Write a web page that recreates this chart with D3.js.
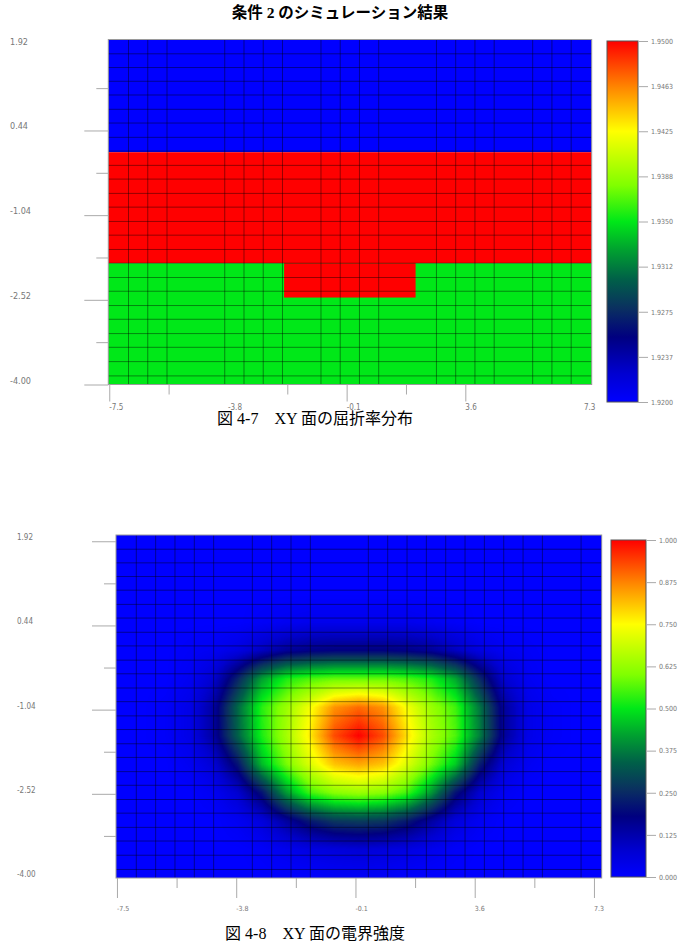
<!DOCTYPE html>
<html>
<head>
<meta charset="utf-8">
<script src="https://cdn.jsdelivr.net/npm/d3@7"></script>
<style>
  body { margin: 0; background: #fff; }
  text { font-family: "Liberation Sans Narrow", "DejaVu Sans Condensed", sans-serif; fill: #777; }
  .title { font-family: "Liberation Serif", "Noto Sans CJK JP", serif; font-weight: bold; fill: #000; }
  .caption { font-family: "Liberation Serif", "Noto Sans CJK JP", serif; fill: #000; }
  .tick line { stroke: #aaa; }
</style>
</head>
<body>
<svg id="chart" width="678" height="944"></svg>
<script>
// Simulation result (condition 2): refractive index map and field intensity map

// Axes (both panels share the same data window)
const xDomain = [-7.53, 7.54];
const yDomain = [-4.00, 2.03];
const xLabelValues = [-7.5, -3.8, -0.1, 3.6, 7.3];
const xLabels = ['-7.5', '-3.8', '-0.1', '3.6', '7.3'];
const yLabelValues = [1.92, 0.44, -1.04, -2.52, -4.00];
const yLabels = ['1.92', '0.44', '-1.04', '-2.52', '-4.00'];

// Tick marks visible in each panel
const xMajorTop = [-7.5, -0.1, 3.6];
const xMinorTop = [-5.65, -1.95, 1.75];
const yMajorTop = [0.44, -1.04, -2.52, -4.00];
const xMajorBot = [-7.5, -3.8, -0.1, 3.6, 7.3];
const xMinorBot = [-5.65, -1.95, 1.75, 5.45];
const yMajorBot = [1.92, 0.44, -1.04, -2.52];
const yMinor = [1.18, -0.30, -1.78, -3.26];

// Mesh lines
const meshXTop = [-6.9, -6.3, -5.7, -3.9, -3.3, -2.7, -2.1, -0.9, -0.3, 0.3, 0.9, 2.7, 3.3, 3.9, 4.5, 5.7, 6.3, 6.9];
const meshXBot = [-6.9, -6.3, -5.7, -5.1, -4.5, -3.3, -2.7, -2.1, -1.5, 0.3, 0.9, 1.5, 2.1, 2.7, 3.3, 3.9, 4.5, 5.1, 5.7, 6.9];
const meshY = [1.78, 1.54, 1.30, 1.06, 0.81, 0.57, 0.32, 0.08, -0.17, -0.41, -0.66, -0.90, -1.15, -1.39,
               -1.64, -1.88, -2.13, -2.37, -2.62, -2.86, -3.11, -3.35, -3.60, -3.85];

// Refractive index structure
const layerTop = [2.03, 0.06, -1.88];
const layerBottom = [0.06, -1.88, -4.00];
const layerIndex = [1.9200, 1.9500, 1.9350];
const ridgeX = [-2.05, 2.05];
const ridgeY = [-1.88, -2.48];
const ridgeIndex = 1.9500;

// Colour bar ticks
const indexTicks = [1.9200, 1.92375, 1.9275, 1.93125, 1.9350, 1.93875, 1.9425, 1.94625, 1.9500];
const indexLabels = ['1.9200', '1.9237', '1.9275', '1.9312', '1.9350', '1.9388', '1.9425', '1.9463', '1.9500'];
const fieldTicks = [0, 0.125, 0.25, 0.375, 0.5, 0.625, 0.75, 0.875, 1];
const fieldLabels = ['0.000', '0.125', '0.250', '0.375', '0.500', '0.625', '0.750', '0.875', '1.000'];

// Colour map (fraction of range -> colour)
const cmapStops = [0, 0.08, 0.18, 0.26, 0.34, 0.42, 0.5, 0.6, 0.75, 0.87, 1];
const cmapColors = ['#0000ff', '#0000d0', '#000080', '#0a3060', '#006048', '#00a030', '#00e818',
                    '#80ff00', '#ffff00', '#ff8800', '#ff0000'];

// Normalised field intensity, estimated on a coarse grid
const fieldX = [-7.5, -6.75, -6, -5.25, -4.5, -3.75, -3, -2.25, -1.5, -0.75, 0, 0.75, 1.5, 2.25, 3, 3.75, 4.5, 5.25, 6, 6.75, 7.5];
const fieldY = [2.0, 1.5, 1.0, 0.5, 0.0, -0.5, -1.0, -1.5, -2.0, -2.5, -3.0, -3.5, -4.0];
const fieldE = [
  [0, 0, 0, 0, 0, 0, 0, 0, 0, 0, 0, 0, 0, 0, 0, 0, 0, 0, 0, 0, 0],
  [0, 0, 0, 0, 0, 0, 0, 0, 0, 0, 0, 0, 0, 0, 0, 0, 0, 0, 0, 0, 0],
  [0, 0, 0, 0, 0, 0, 0, 0, 0, 0, 0, 0, 0, 0, 0, 0, 0, 0, 0, 0, 0],
  [0, 0, 0, 0, 0, 0, 0.01, 0.02, 0.03, 0.03, 0.03, 0.03, 0.03, 0.02, 0.01, 0, 0, 0, 0, 0, 0],
  [0, 0, 0, 0.01, 0.02, 0.05, 0.10, 0.15, 0.17, 0.18, 0.18, 0.18, 0.17, 0.15, 0.10, 0.05, 0.02, 0.01, 0, 0, 0],
  [0, 0, 0, 0.02, 0.08, 0.24, 0.42, 0.52, 0.56, 0.58, 0.58, 0.58, 0.56, 0.52, 0.43, 0.25, 0.08, 0.02, 0, 0, 0],
  [0, 0, 0.01, 0.04, 0.14, 0.35, 0.53, 0.63, 0.74, 0.86, 0.90, 0.86, 0.74, 0.63, 0.55, 0.37, 0.15, 0.04, 0.01, 0, 0],
  [0, 0, 0.01, 0.04, 0.14, 0.34, 0.52, 0.64, 0.77, 0.93, 1.00, 0.93, 0.78, 0.65, 0.56, 0.38, 0.15, 0.04, 0.01, 0, 0],
  [0, 0, 0, 0.02, 0.07, 0.21, 0.45, 0.59, 0.71, 0.81, 0.84, 0.81, 0.71, 0.59, 0.47, 0.23, 0.07, 0.02, 0, 0, 0],
  [0, 0, 0, 0, 0.02, 0.08, 0.21, 0.41, 0.55, 0.61, 0.63, 0.61, 0.55, 0.41, 0.21, 0.08, 0.02, 0, 0, 0, 0],
  [0, 0, 0, 0, 0, 0.02, 0.06, 0.14, 0.22, 0.27, 0.28, 0.27, 0.22, 0.14, 0.06, 0.02, 0, 0, 0, 0, 0],
  [0, 0, 0, 0, 0, 0, 0.01, 0.03, 0.05, 0.06, 0.07, 0.06, 0.05, 0.03, 0.01, 0, 0, 0, 0, 0, 0],
  [0, 0, 0, 0, 0, 0, 0, 0, 0, 0.01, 0.01, 0.01, 0, 0, 0, 0, 0, 0, 0, 0, 0]
];

const cmap = d3.scaleLinear().domain(cmapStops).range(cmapColors).clamp(true);
const indexNorm = d3.scaleLinear().domain([1.92, 1.95]).range([0, 1]);

const svg = d3.select('#chart');
svg.append('rect').attr('width', 678).attr('height', 944).attr('fill', '#fff');

// Title
svg.append('text')
  .attr('class', 'title')
  .attr('x', 340).attr('y', 14)
  .attr('text-anchor', 'middle')
  .attr('dominant-baseline', 'middle')
  .style('font-size', '15.5px')
  .text('条件 2 のシミュレーション結果');

// Draws ticks, labels, mesh and border for one panel
function drawFrame(x, y, meshX, opt) {
  const g = svg.append('g');
  const [x0, x1] = x.range();
  const [y1, y0] = y.range();

  // mesh
  g.selectAll('.mx').data(meshX).enter().append('line')
    .attr('x1', d => x(d)).attr('x2', d => x(d))
    .attr('y1', y0).attr('y2', y1)
    .attr('stroke', '#000').attr('stroke-opacity', 0.42).attr('stroke-width', 1);
  g.selectAll('.my').data(meshY).enter().append('line')
    .attr('x1', x0).attr('x2', x1)
    .attr('y1', d => y(d)).attr('y2', d => y(d))
    .attr('stroke', '#000').attr('stroke-opacity', 0.42).attr('stroke-width', 1);

  g.append('rect')
    .attr('x', x0).attr('y', y0).attr('width', x1 - x0).attr('height', y1 - y0)
    .attr('fill', 'none').attr('stroke', '#9a9a9a');

  // y axis ticks (major and minor in separate groups)
  const yMaj = g.append('g').attr('transform', `translate(${x0},0)`)
    .call(d3.axisLeft(y).tickValues(opt.yMajor).tickSize(24).tickFormat(''));
  const yMin = g.append('g').attr('transform', `translate(${x0},0)`)
    .call(d3.axisLeft(y).tickValues(yMinor).tickSize(12).tickFormat(''));
  yMaj.selectAll('.domain').remove();
  yMin.selectAll('.domain').remove();
  g.selectAll('.ylab').data(yLabelValues).enter().append('text')
    .attr('x', opt.yLabelX).attr('y', d => y(d) - 3.5)
    .attr('dominant-baseline', 'middle')
    .style('font-size', opt.yFont)
    .text((d, i) => yLabels[i]);

  // x axis ticks
  const xMaj = g.append('g').attr('transform', `translate(0,${y1})`)
    .call(d3.axisBottom(x).tickValues(opt.xMajor).tickSize(opt.xMajorLen).tickFormat(''));
  const xMin = g.append('g').attr('transform', `translate(0,${y1})`)
    .call(d3.axisBottom(x).tickValues(opt.xMinor).tickSize(10).tickFormat(''));
  xMaj.selectAll('.domain').remove();
  xMin.selectAll('.domain').remove();
  g.selectAll('.xlab').data(xLabelValues).enter().append('text')
    .attr('x', d => x(d)).attr('y', opt.xLabelY)
    .attr('dominant-baseline', 'middle')
    .style('font-size', opt.xFont)
    .text((d, i) => xLabels[i]);
}

// Vertical colour bar with its own ticks
function drawColorBar(id, x0, width, scale, ticks, labels) {
  const [yb, yt] = scale.range();
  const grad = svg.append('defs').append('linearGradient')
    .attr('id', id).attr('x1', 0).attr('y1', 1).attr('x2', 0).attr('y2', 0);
  cmapStops.forEach((s, i) => {
    grad.append('stop').attr('offset', s).attr('stop-color', cmapColors[i]);
  });
  svg.append('rect')
    .attr('x', x0).attr('y', yt).attr('width', width).attr('height', yb - yt)
    .attr('fill', `url(#${id})`).attr('stroke', '#555').attr('stroke-width', 1);
  const ax = svg.append('g').attr('transform', `translate(${x0 + width},0)`)
    .call(d3.axisRight(scale).tickValues(ticks).tickSize(10).tickPadding(3)
      .tickFormat((d, i) => labels[i]));
  ax.selectAll('.domain').remove();
  ax.selectAll('text').style('font-size', '7px').attr('fill', '#777')
    .style('font-family', '"Liberation Sans Narrow", "DejaVu Sans Condensed", sans-serif');
}

// ---------- Panel 1: refractive index ----------
const xTop = d3.scaleLinear().domain(xDomain).range([108.3, 591.7]);
const yTop = d3.scaleLinear().domain(yDomain).range([384.5, 39.5]);

svg.selectAll('.layer').data(layerIndex).enter().append('rect')
  .attr('x', xTop(xDomain[0]))
  .attr('width', xTop(xDomain[1]) - xTop(xDomain[0]))
  .attr('y', (d, i) => yTop(layerTop[i]))
  .attr('height', (d, i) => yTop(layerBottom[i]) - yTop(layerTop[i]))
  .attr('fill', d => cmap(indexNorm(d)));

svg.append('rect')
  .attr('x', xTop(ridgeX[0])).attr('width', xTop(ridgeX[1]) - xTop(ridgeX[0]))
  .attr('y', yTop(ridgeY[0])).attr('height', yTop(ridgeY[1]) - yTop(ridgeY[0]))
  .attr('fill', cmap(indexNorm(ridgeIndex)));

drawFrame(xTop, yTop, meshXTop, {
  yMajor: yMajorTop, xMajor: xMajorTop, xMinor: xMinorTop,
  yLabelX: 10, yFont: '9px', xMajorLen: 17, xLabelY: 407, xFont: '8px'
});

const cbTop = d3.scaleLinear().domain([1.92, 1.95]).range([402, 41]);
drawColorBar('gradTop', 607, 31, cbTop, indexTicks, indexLabels);

svg.append('text')
  .attr('class', 'caption')
  .attr('x', 315).attr('y', 420)
  .attr('text-anchor', 'middle').attr('dominant-baseline', 'middle')
  .style('font-size', '16px')
  .text('図 4-7　XY 面の屈折率分布');

// ---------- Panel 2: field intensity ----------
const xBot = d3.scaleLinear().domain(xDomain).range([116, 601.7]);
const yBot = d3.scaleLinear().domain(yDomain).range([878, 535]);

function fieldAt(xv, yv) {
  const nx = fieldX.length, ny = fieldY.length;
  let fx = (xv - fieldX[0]) / (fieldX[1] - fieldX[0]);
  let fy = (fieldY[0] - yv) / (fieldY[0] - fieldY[1]);
  fx = Math.max(0, Math.min(nx - 1.0001, fx));
  fy = Math.max(0, Math.min(ny - 1.0001, fy));
  const i = Math.floor(fx), j = Math.floor(fy);
  const tx = fx - i, ty = fy - j;
  const a = fieldE[j][i] * (1 - tx) + fieldE[j][i + 1] * tx;
  const b = fieldE[j + 1][i] * (1 - tx) + fieldE[j + 1][i + 1] * tx;
  return a * (1 - ty) + b * ty;
}

const px0 = xBot.range()[0], py0 = yBot.range()[1];
const cw = Math.round(xBot.range()[1] - px0);
const ch = Math.round(yBot.range()[0] - py0);
const canvas = document.createElement('canvas');
canvas.width = cw; canvas.height = ch;
const ctx = canvas.getContext('2d');
const img = ctx.createImageData(cw, ch);
const lut = d3.range(256).map(k => d3.rgb(cmap(k / 255)));
for (let py = 0; py < ch; py++) {
  const yv = yBot.invert(py0 + py + 0.5);
  for (let px = 0; px < cw; px++) {
    const xv = xBot.invert(px0 + px + 0.5);
    const v = fieldAt(xv, yv);
    const c = lut[Math.max(0, Math.min(255, Math.round(v * 255)))];
    const o = (py * cw + px) * 4;
    img.data[o] = c.r; img.data[o + 1] = c.g; img.data[o + 2] = c.b; img.data[o + 3] = 255;
  }
}
ctx.putImageData(img, 0, 0);
svg.append('image')
  .attr('href', canvas.toDataURL())
  .attr('x', px0).attr('y', py0)
  .attr('width', cw).attr('height', ch)
  .attr('preserveAspectRatio', 'none');

drawFrame(xBot, yBot, meshXBot, {
  yMajor: yMajorBot, xMajor: xMajorBot, xMinor: xMinorBot,
  yLabelX: 17, yFont: '8px', xMajorLen: 20, xLabelY: 909, xFont: '7px'
});

const cbBot = d3.scaleLinear().domain([0, 1]).range([877, 540]);
drawColorBar('gradBot', 611, 35, cbBot, fieldTicks, fieldLabels);

svg.append('text')
  .attr('class', 'caption')
  .attr('x', 315).attr('y', 935)
  .attr('text-anchor', 'middle').attr('dominant-baseline', 'middle')
  .style('font-size', '16px')
  .text('図 4-8　XY 面の電界強度');
</script>
</body>
</html>
